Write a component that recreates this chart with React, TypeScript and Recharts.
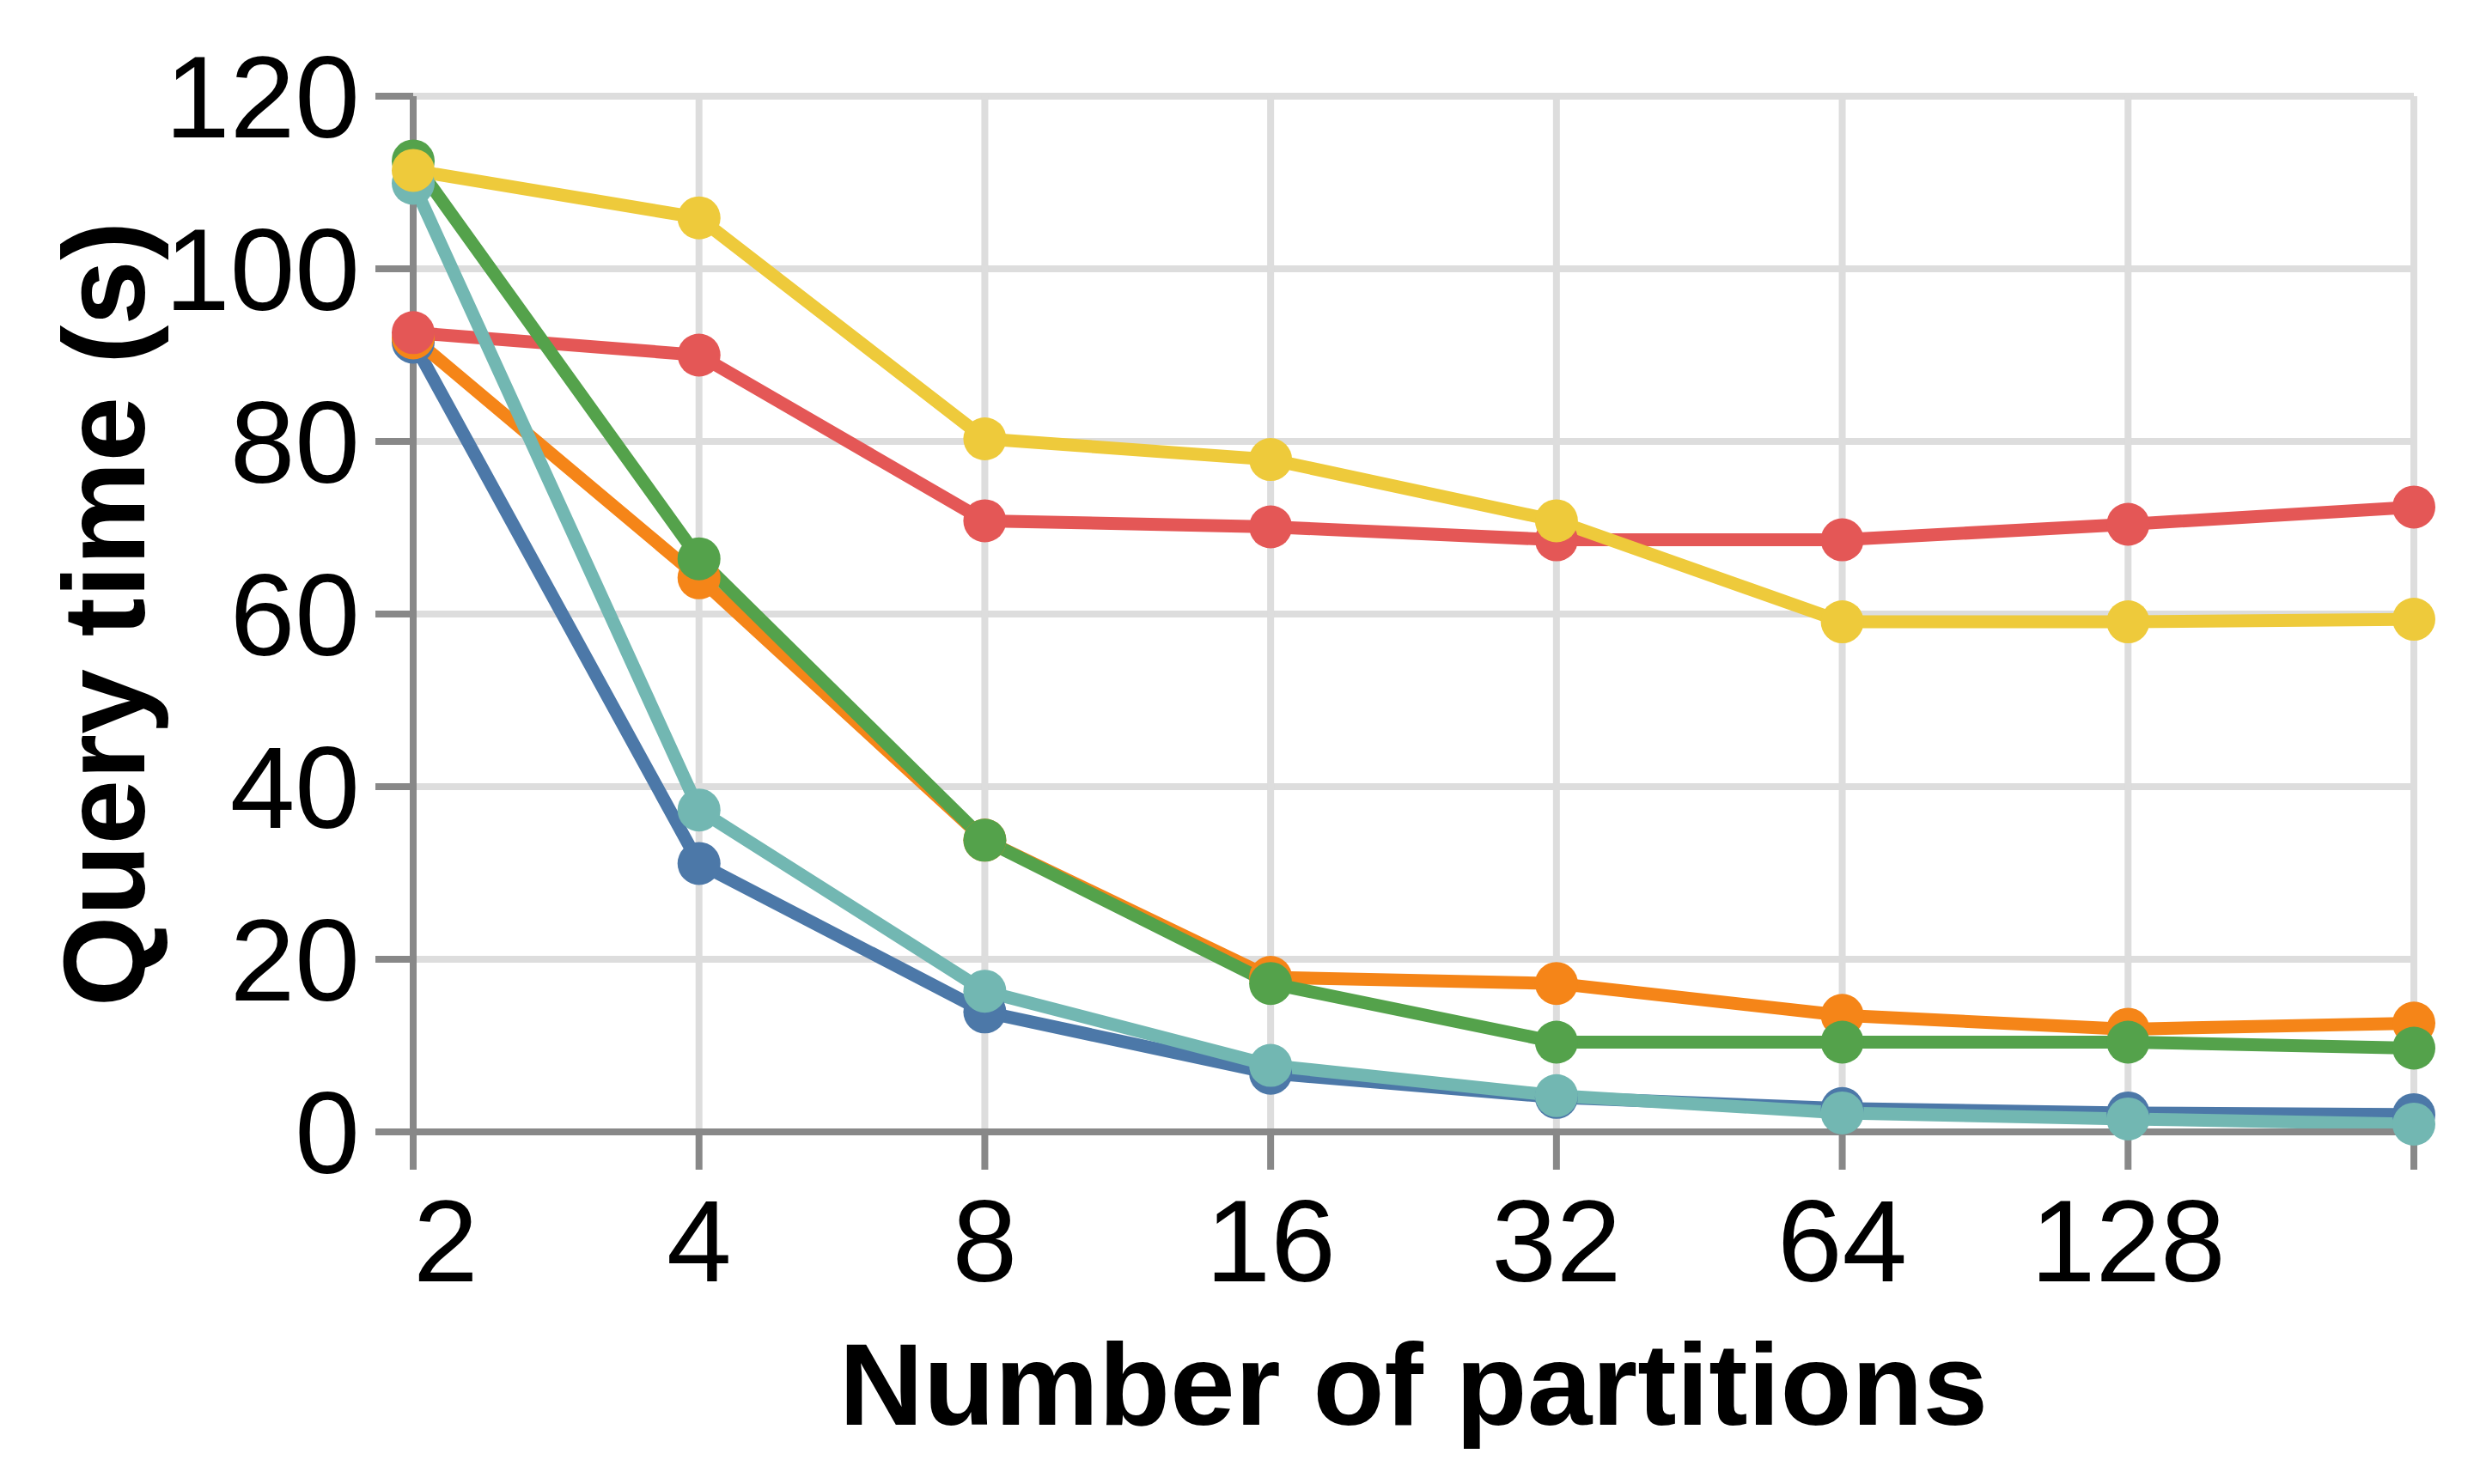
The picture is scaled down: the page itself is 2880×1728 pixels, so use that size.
import { LineChart, Line, XAxis, YAxis, CartesianGrid, Label } from 'recharts';

const partitions = ['2', '4', '8', '16', '32', '64', '128', '256'];
const tickLabels = ['2', '4', '8', '16', '32', '64', '128', ''];
const yTicks = [0, 20, 40, 60, 80, 100, 120];

const blueVals = [91.5, 31.1, 13.9, 6.8, 4.0, 2.7, 2.2, 2.0];
const orangeVals = [92.0, 64.2, 33.8, 17.9, 17.2, 13.5, 11.9, 12.6];
const redVals = [92.6, 90.0, 70.8, 70.1, 68.6, 68.6, 70.4, 72.4];
const tealVals = [109.9, 37.3, 16.3, 7.7, 4.2, 2.2, 1.5, 0.9];
const greenVals = [112.5, 66.4, 33.8, 17.2, 10.4, 10.4, 10.4, 9.7];
const yellowVals = [111.4, 105.9, 80.3, 77.9, 70.8, 59.1, 59.1, 59.4];

const seriesList = [
  { key: 'blue', values: blueVals, color: '#4c78a8' },
  { key: 'orange', values: orangeVals, color: '#f58518' },
  { key: 'red', values: redVals, color: '#e45756' },
  { key: 'teal', values: tealVals, color: '#72b7b2' },
  { key: 'green', values: greenVals, color: '#54a24b' },
  { key: 'yellow', values: yellowVals, color: '#eeca3b' },
];

const data = partitions.map((p, i) => {
  const row: Record<string, any> = { p };
  seriesList.forEach((s) => (row[s.key] = s.values[i]));
  return row;
});

const FONT = '"Liberation Sans", Arial, Helvetica, sans-serif';
const FS = 136;
const AXIS = '#888888';

function XTick(props: any) {
  const { x, y, index } = props;
  return (
    <text
      x={x}
      y={y}
      dy={FS * 0.716}
      textAnchor={index === 0 ? 'start' : 'middle'}
      fontFamily={FONT}
      fontSize={FS}
      fill="#000"
    >
      {tickLabels[index]}
    </text>
  );
}

function YTitle(props: any) {
  const vb = props.viewBox;
  const cx = vb.x + 168;
  const cy = vb.y + vb.height / 2;
  return (
    <text
      x={cx}
      y={cy}
      transform={`rotate(-90, ${cx}, ${cy})`}
      textAnchor="middle"
      fontFamily={FONT}
      fontSize={FS}
      fontWeight="bold"
      fill="#000"
    >
      Query time (s)
    </text>
  );
}

function XTitle(props: any) {
  const vb = props.viewBox;
  return (
    <text
      x={vb.x + vb.width / 2}
      y={vb.y + 341}
      textAnchor="middle"
      fontFamily={FONT}
      fontSize={FS}
      fontWeight="bold"
      fill="#000"
    >
      Number of partitions
    </text>
  );
}

export default function App() {
  return (
    <div style={{ position: 'absolute', left: 0, top: 0, width: 2880, height: 1728, background: '#fff' }}>
      <LineChart width={2880} height={1728} data={data} margin={{ top: 112, right: 70, left: 0, bottom: 0 }}>
        <CartesianGrid stroke="#dddddd" strokeWidth={8} />
        <XAxis
          dataKey="p"
          type="category"
          scale="point"
          padding={{ left: 0, right: 0 }}
          height={410}
          interval={0}
          tickSize={44}
          tickMargin={33}
          stroke={AXIS}
          strokeWidth={8}
          tickLine={{ stroke: AXIS, strokeWidth: 8 }}
          tick={<XTick />}
        >
          <Label content={<XTitle />} />
        </XAxis>
        <YAxis
          type="number"
          domain={[0, 120]}
          ticks={yTicks}
          width={481}
          tickSize={44}
          tickMargin={18}
          stroke={AXIS}
          strokeWidth={8}
          tickLine={{ stroke: AXIS, strokeWidth: 8 }}
          tick={{ fill: '#000', fontFamily: FONT, fontSize: FS }}
        >
          <Label content={<YTitle />} />
        </YAxis>
        {seriesList.map((s) => (
          <Line
            key={s.key}
            dataKey={s.key}
            stroke={s.color}
            strokeWidth={15}
            dot={{ r: 25, fill: s.color, stroke: 'none' }}
            activeDot={false}
            isAnimationActive={false}
          />
        ))}
      </LineChart>
    </div>
  );
}
